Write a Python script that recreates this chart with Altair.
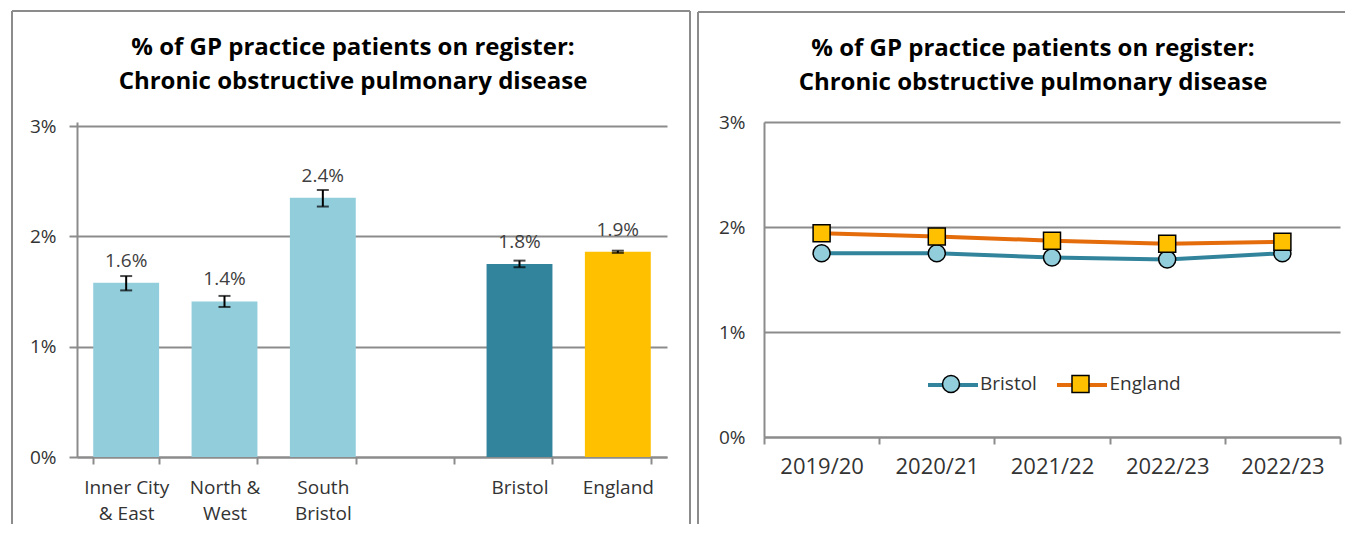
import json
import altair as alt
import pandas as pd

FONT = "Open Sans"
GRID = "#8c8c8c"
TXT = "#333333"

# ---------------- data: left (bar) chart ----------------
areas = ["Inner City|& East", "North &|West", "South|Bristol", "Bristol", "England"]
area_groups = ["locality", "locality", "locality", "Bristol", "England"]
area_values = [1.58, 1.41, 2.35, 1.75, 1.86]
area_lower = [1.51, 1.36, 2.27, 1.72, 1.85]
area_upper = [1.64, 1.46, 2.42, 1.78, 1.87]
x_slots = ["Inner City|& East", "North &|West", "South|Bristol", " ", "Bristol", "England"]

# ---------------- data: right (trend) chart ----------------
periods = ["2019/20", "2020/21", "2021/22", "2022/23", "2022/23"]
series_names = ["Bristol", "England"]
bristol_trend = [1.75, 1.75, 1.71, 1.69, 1.75]
england_trend = [1.94, 1.91, 1.87, 1.84, 1.86]

title_lines = ["% of GP practice patients on register:",
               "Chronic obstructive pulmonary disease"]

df_left = pd.DataFrame({"area": areas, "group": area_groups, "value": area_values,
                        "lower": area_lower, "upper": area_upper})
rows = []
for name, vals in zip(series_names, [bristol_trend, england_trend]):
    for i, v in enumerate(vals):
        rows.append({"idx": i, "series": name, "series_pt": name, "value": v})
df_right = pd.DataFrame(rows)

pct_label = "datum.value + '%'"
one = alt.Data(values=[{}])


def y_axis(ticks=True, pad=13):
    return alt.Axis(values=[0, 1, 2, 3], labelExpr=pct_label, grid=True, gridColor=GRID,
                    gridWidth=2, domainColor=GRID, domainWidth=2, ticks=ticks,
                    tickColor=GRID, tickSize=8, tickWidth=2, labelPadding=pad,
                    labelFont=FONT, labelFontSize=19, labelColor=TXT, title=None)


def title(dx, offset):
    return alt.TitleParams(text=title_lines, font=FONT, fontSize=24, fontWeight="bold",
                           color="black", lineHeight=34, anchor="middle", dx=dx,
                           offset=offset)


def edge(x, y, x2=None, y2=None):
    enc = {"x": alt.value(x), "y": alt.value(y)}
    if x2 is not None:
        enc["x2"] = alt.value(x2)
    if y2 is not None:
        enc["y2"] = alt.value(y2)
    return alt.Chart(one).mark_rule(color=GRID, strokeWidth=2).encode(**enc)


# ---------------- left chart ----------------
LW, LH = 590, 335
xl = alt.X("area:N", scale=alt.Scale(domain=x_slots, paddingInner=0.33, paddingOuter=0.165),
           axis=alt.Axis(labelExpr="split(datum.label, '|')", labelAngle=0, tickBand="extent",
                         tickSize=7, tickColor=GRID, tickWidth=2, domainColor=GRID,
                         domainWidth=2, labelFont=FONT, labelFontSize=19, labelColor=TXT,
                         labelPadding=14, labelLineHeight=26, labelBaseline="top",
                         title=None))
yl = alt.Y("value:Q", scale=alt.Scale(domain=[0, 3.0363], nice=False), axis=y_axis())

base = alt.Chart(df_left)
bars = base.mark_bar().encode(
    x=xl, y=yl,
    color=alt.Color("group:N", scale=alt.Scale(domain=["locality", "Bristol", "England"],
                                               range=["#92CDDC", "#31849B", "#FFC000"]),
                    legend=None))
err = base.mark_rule(color="black", strokeWidth=2).encode(x="area:N", y="lower:Q", y2="upper:Q")
cap_lo = base.mark_tick(color="black", thickness=2, size=12).encode(x="area:N", y="lower:Q")
cap_hi = base.mark_tick(color="black", thickness=2, size=12).encode(x="area:N", y="upper:Q")
labels = base.transform_calculate(lbl="format(datum.value, '.1f') + '%'").mark_text(
    dy=-16, baseline="alphabetic", font=FONT, fontSize=19, color="#404040").encode(
    x="area:N", y="value:Q", text="lbl:N")

left = alt.layer(
    bars, err, cap_lo, cap_hi, labels,
    edge(-65, -111, y2=402), edge(-65, -111, x2=613), edge(613, -111, y2=402),
).properties(width=LW, height=LH, title=title(-19, -84))

# ---------------- right chart ----------------
RW, RH = 576, 315
xr = alt.X("idx:O", scale=alt.Scale(type="band", paddingInner=0, paddingOuter=0),
           axis=alt.Axis(labelExpr=json.dumps(periods) + "[datum.value]", labelAngle=0,
                         tickBand="extent", tickSize=7, tickColor=GRID, tickWidth=2,
                         domainColor=GRID, domainWidth=2, labelFont=FONT, labelFontSize=22,
                         labelColor=TXT, labelPadding=12, title=None))
yr = alt.Y("value:Q", scale=alt.Scale(domain=[0, 3], nice=False), axis=y_axis(False, 19))

pt_legend = dict(orient="none", direction="horizontal", title=None,
                 legendX=177.5, legendY=252.5, symbolSize=289,
                 symbolStrokeColor="black", symbolStrokeWidth=1.5,
                 labelOffset=19.5, columnPadding=31.5, labelFont=FONT,
                 labelFontSize=19, labelColor=TXT)

rbase = alt.Chart(df_right)
lines = rbase.mark_line(strokeWidth=4).encode(
    x=xr, y=yr,
    stroke=alt.Stroke("series:N", scale=alt.Scale(domain=series_names,
                                                  range=["#31849B", "#E46C0A"]),
                      legend=alt.Legend(orient="none", direction="horizontal", title=None,
                                        legendX=162, legendY=236, symbolType="stroke",
                                        symbolSize=2500, symbolStrokeWidth=4,
                                        labelExpr="''", labelOffset=0, columnPadding=63,
                                        labelFont=FONT, labelFontSize=19)))
points = rbase.mark_point(filled=True, size=289, stroke="black", strokeWidth=1.5,
                          opacity=1).encode(
    x=xr, y=yr,
    fill=alt.Fill("series_pt:N", scale=alt.Scale(range=["#92CDDC", "#FFC000"]),
                  legend=alt.Legend(**pt_legend)),
    shape=alt.Shape("series_pt:N", scale=alt.Scale(range=["circle", "square"]),
                    legend=alt.Legend(**pt_legend)),
    stroke=alt.Stroke("series_pt:N", scale=alt.Scale(range=["black", "black"]),
                      legend=alt.Legend(**pt_legend)))

right = alt.layer(
    lines, points,
    edge(-66, -110, y2=402), edge(-66, -110, x2=581),
).resolve_scale(stroke="independent", fill="independent", shape="independent").properties(
    width=RW, height=RH, title=title(-19, -84))

chart = alt.hconcat(left, right, spacing=6).properties(
    padding={"left": 3, "top": 2, "right": 0, "bottom": 7}, background="white"
).configure_view(stroke=None)

chart.save("out.html", embed_options={"renderer": "svg", "actions": False})
